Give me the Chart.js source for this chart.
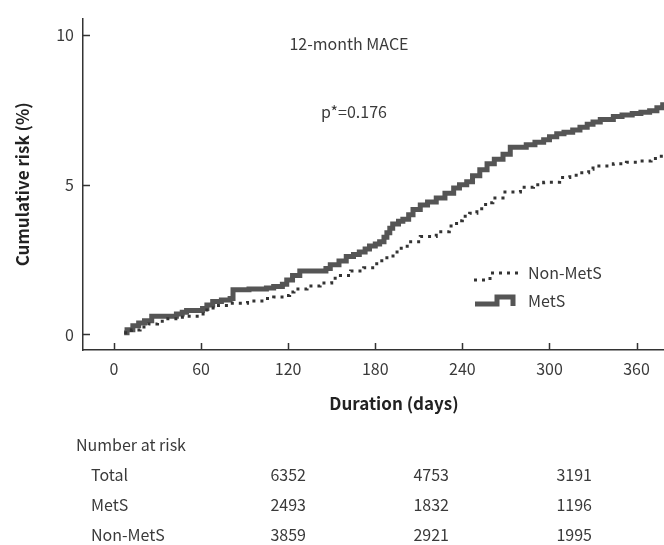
<!DOCTYPE html>
<html>
<head>
<meta charset="utf-8">
<script src="https://cdn.jsdelivr.net/npm/chart.js@4/dist/chart.umd.min.js"></script>
<style>
  html, body { margin: 0; padding: 0; background: #fff; }
  #wrap { width: 664px; height: 545px; }
</style>
</head>
<body>
<div id="wrap"><canvas id="c" width="664" height="545"></canvas></div>
<script>
// ---- data ----
const metsPoints = [
  [7,0.06],[9,0.16],[13,0.29],[17,0.38],[21,0.46],[26,0.61],[43,0.68],[47,0.74],[50,0.80],
  [61,0.87],[64,0.98],[68,1.10],[74,1.15],[80,1.20],[82,1.49],[93,1.52],[105,1.55],[110,1.60],
  [116,1.68],[119,1.82],[123,1.97],[128,2.12],[146,2.20],[149,2.33],[155,2.45],[160,2.60],
  [165,2.67],[169,2.75],[173,2.85],[176,2.95],[180,3.02],[183,3.10],[186,3.25],[188,3.40],
  [190,3.55],[192,3.69],[196,3.78],[199,3.85],[203,4.00],[206,4.17],[211,4.32],[216,4.42],
  [222,4.56],[228,4.72],[234,4.89],[238,5.00],[243,5.10],[247,5.30],[252,5.50],[257,5.70],
  [262,5.85],[268,6.02],[273,6.25],[284,6.34],[290,6.42],[296,6.50],[300,6.60],[305,6.70],
  [310,6.75],[316,6.83],[321,6.92],[326,7.02],[330,7.10],[335,7.18],[344,7.28],[350,7.33],
  [357,7.38],[363,7.42],[369,7.47],[374,7.57],[378,7.67],[380,7.70]
];
const nonMetsPoints = [
  [7,0.06],[12,0.15],[18,0.25],[24,0.35],[30,0.44],[36,0.52],[45,0.57],[50,0.61],[59,0.68],
  [64,0.88],[72,0.97],[80,1.04],[92,1.12],[103,1.20],[110,1.25],[117,1.30],[121,1.42],
  [124,1.52],[133,1.62],[142,1.72],[150,1.88],[156,1.97],[163,2.12],[172,2.23],[181,2.46],
  [188,2.62],[195,2.88],[202,3.10],[211,3.27],[222,3.43],[231,3.62],[236,3.80],[240,3.95],
  [245,4.05],[250,4.20],[256,4.40],[261,4.56],[268,4.76],[280,4.92],[289,5.00],[296,5.08],
  [307,5.24],[314,5.32],[321,5.40],[327,5.52],[330,5.63],[344,5.70],[353,5.75],[362,5.79],
  [370,5.88],[376,5.95],[380,5.98]
];
const seriesLabels = ['Non-MetS', 'MetS'];
const xTicks = [0, 60, 120, 180, 240, 300, 360];
const yTicks = [0, 5, 10];
const annotTitle = '12-month MACE';
const annotP = 'p*=0.176';
const riskHeader = 'Number at risk';
const riskRowLabels = ['Total', 'MetS', 'Non-MetS'];
const riskTotal = [6352, 4753, 3191];
const riskMets = [2493, 1832, 1196];
const riskNonMets = [3859, 2921, 1995];

const FONT = '"Noto Sans CJK KR", "Noto Sans", sans-serif';
const TXT = '#3a3a3a';

const toXY = a => a.map(p => ({x: p[0], y: p[1]}));

const decor = {
  id: 'decor',
  afterDraw(chart) {
    const ctx = chart.ctx;
    const xs = chart.scales.x, ys = chart.scales.y;
    ctx.save();
    // inward ticks
    ctx.strokeStyle = '#333';
    ctx.lineWidth = 1.5;
    ctx.beginPath();
    xTicks.forEach(v => {
      const px = Math.round(xs.getPixelForValue(v)) + 0.5;
      ctx.moveTo(px, xs.top); ctx.lineTo(px, xs.top - 7);
    });
    yTicks.forEach(v => {
      const py = Math.round(ys.getPixelForValue(v)) + 0.5;
      ctx.moveTo(ys.right, py); ctx.lineTo(ys.right + 7, py);
    });
    ctx.stroke();

    // x axis title
    ctx.fillStyle = '#222';
    ctx.font = 'bold 17px ' + FONT;
    ctx.textAlign = 'center';
    ctx.textBaseline = 'middle';
    ctx.fillText('Duration (days)', 394, 404);

    // annotations
    ctx.fillStyle = TXT;
    ctx.font = '16px ' + FONT;
    ctx.fillText(annotTitle, 349, 44);
    ctx.fillText(annotP, 354, 112);

    // legend
    ctx.textAlign = 'left';
    ctx.fillText(seriesLabels[0], 528, 273);
    ctx.fillText(seriesLabels[1], 528, 301);
    ctx.strokeStyle = '#333';
    ctx.lineWidth = 3;
    ctx.setLineDash([3, 5]);
    ctx.beginPath();
    ctx.moveTo(474, 280); ctx.lineTo(490, 280); ctx.lineTo(490, 273); ctx.lineTo(522, 273);
    ctx.stroke();
    ctx.setLineDash([]);
    ctx.strokeStyle = '#555';
    ctx.lineWidth = 5;
    ctx.lineJoin = 'miter';
    ctx.beginPath();
    ctx.moveTo(475, 304); ctx.lineTo(497, 304); ctx.lineTo(497, 297); ctx.lineTo(513, 297); ctx.lineTo(513, 306);
    ctx.stroke();

    // number at risk table
    ctx.fillStyle = TXT;
    ctx.font = '16px ' + FONT;
    ctx.textAlign = 'left';
    ctx.fillText(riskHeader, 76, 445);
    const rowsY = [475, 505, 535];
    const rows = [riskTotal, riskMets, riskNonMets];
    const colRight = [306, 449, 592];
    rows.forEach((r, i) => {
      ctx.textAlign = 'left';
      ctx.fillText(riskRowLabels[i], 91, rowsY[i]);
      ctx.textAlign = 'right';
      r.forEach((v, j) => ctx.fillText(String(v), colRight[j], rowsY[i]));
    });
    ctx.restore();
  }
};

new Chart(document.getElementById('c'), {
  type: 'line',
  data: {
    datasets: [
      {
        label: seriesLabels[0],
        data: toXY(nonMetsPoints),
        borderColor: '#333',
        borderWidth: 3,
        borderDash: [3, 5],
        stepped: true,
        pointRadius: 0,
        fill: false
      },
      {
        label: seriesLabels[1],
        data: toXY(metsPoints),
        borderColor: '#555',
        borderWidth: 5,
        stepped: true,
        pointRadius: 0,
        fill: false
      }
    ]
  },
  options: {
    responsive: false,
    animation: false,
    events: [],
    layout: { padding: { left: 0, right: 0, top: 8, bottom: 125 } },
    plugins: { legend: { display: false }, tooltip: { enabled: false } },
    scales: {
      x: {
        type: 'linear',
        min: -21.35,
        max: 378.9,
        afterBuildTicks: s => { s.ticks = xTicks.map(v => ({value: v})); },
        afterFit: s => { s.height = 70; },
        grid: { display: true, drawOnChartArea: false, drawTicks: false },
        border: { display: true, color: '#333', width: 1.5 },
        ticks: { color: TXT, font: { family: FONT, size: 16 }, padding: 9, maxRotation: 0, autoSkip: false }
      },
      y: {
        type: 'linear',
        min: -0.52,
        max: 10.55,
        afterBuildTicks: s => { s.ticks = yTicks.map(v => ({value: v})); },
        afterFit: s => { s.width = 83; },
        grid: { display: true, drawOnChartArea: false, drawTicks: false },
        border: { display: true, color: '#333', width: 1.5 },
        title: { display: true, text: 'Cumulative risk (%)', color: '#222',
                 font: { family: FONT, size: 17, weight: 'bold' }, padding: { top: 12, bottom: 0 } },
        ticks: { color: TXT, font: { family: FONT, size: 16 }, padding: 9 }
      }
    }
  },
  plugins: [decor]
});
</script>
</body>
</html>
